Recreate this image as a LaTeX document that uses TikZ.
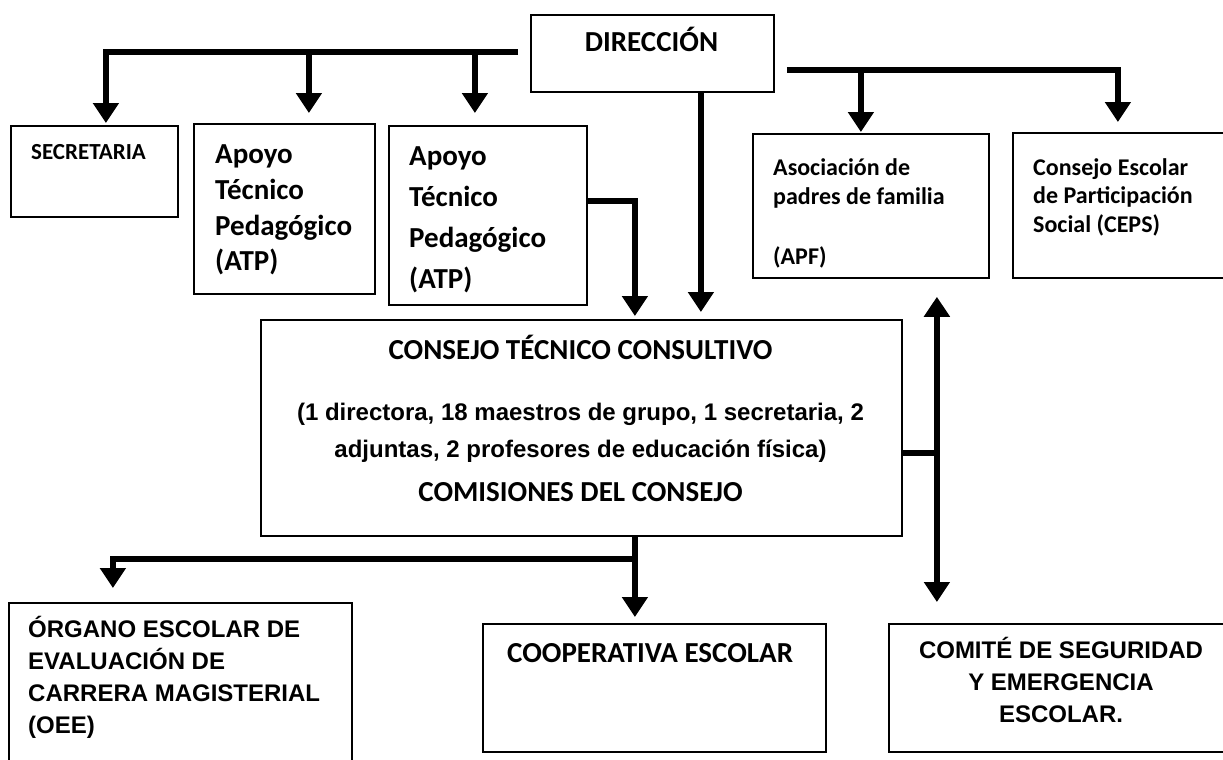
\documentclass[tikz,border=0pt]{standalone}
\usepackage{fontspec}
\setmainfont{Carlito}
\newfontfamily\arialfont{Liberation Sans}
\usetikzlibrary{arrows.meta}

\newcommand{\fsz}[2]{\fontsize{#1}{#2}\selectfont}
\newcommand{\topstrut}{\rule{0pt}{0.8em}}

\tikzset{
  box/.style={draw, line width=1.8pt, anchor=north west, inner sep=0pt},
  txt/.style={anchor=north west, inner sep=0pt, align=left},
  link/.style={line width=6pt},
  arr/.style={link, -{Triangle[width=25pt,length=20pt]}},
  darr/.style={link, {Triangle[width=25pt,length=20pt]}-{Triangle[width=25pt,length=20pt]}},
}

\begin{document}
\begin{tikzpicture}[x=1pt,y=-1pt]
  \useasboundingbox (0,0) rectangle (1223,760);

  % boxes
  \node[box, minimum width=243pt, minimum height=77pt] (dir) at (530,14) {};
  \node[box, minimum width=167pt, minimum height=91pt] (secr) at (10,125) {};
  \node[box, minimum width=181pt, minimum height=170pt] (atpa) at (193,123) {};
  \node[box, minimum width=198pt, minimum height=179pt] (atpb) at (388,125) {};
  \node[box, minimum width=236pt, minimum height=144pt] (apf) at (752,133) {};
  \node[box, minimum width=214pt, minimum height=145pt] (ceps) at (1012,132) {};
  \node[box, minimum width=641pt, minimum height=216pt] (ctc) at (260,319) {};
  \node[box, minimum width=343pt, minimum height=165pt] (oee) at (8,602) {};
  \node[box, minimum width=343pt, minimum height=128pt] (coop) at (482,623) {};
  \node[box, minimum width=338pt, minimum height=128pt] (comite) at (888,623) {};

  % texts
  \node[anchor=base, inner sep=0pt, font=\bfseries\fsz{29}{35}] (dirt) at (651.5,52) {DIRECCIÓN};
  \node[anchor=base west, inner sep=0pt, font=\bfseries\fsz{23}{28}] (secrt) at (31,159.5) {SECRETARIA};
  \node[txt, font=\bfseries\fsz{29}{35.6}] (atpat) at (215,140.5)
    {\topstrut Apoyo\\Técnico\\Pedagógico\\(ATP)};
  \node[txt, font=\bfseries\fsz{29}{40.8}] (atpbt) at (409,142.5)
    {\topstrut Apoyo\\Técnico\\Pedagógico\\(ATP)};
  \node[txt, font=\bfseries\fsz{24}{29.5}] (apft) at (773,156)
    {\topstrut Asociación de\\padres de familia\\[30pt](APF)};
  \node[txt, font=\bfseries\fsz{24}{28.5}] (cepst) at (1033,156)
    {\topstrut Consejo Escolar\\de Participación\\Social (CEPS)};
  \node[anchor=base, inner sep=0pt, font=\bfseries\fsz{29}{35}] (ctct) at (580.5,359)
    {CONSEJO TÉCNICO CONSULTIVO};
  \node[anchor=base, inner sep=0pt, font=\arialfont\bfseries\fsz{24}{30}] (ctcm) at (580.5,420.5)
    {(1 directora, 18 maestros de grupo, 1 secretaria, 2};
  \node[anchor=base, inner sep=0pt, font=\arialfont\bfseries\fsz{24}{30}] (ctcn) at (580.5,457.5)
    {adjuntas, 2 profesores de educación física)};
  \node[anchor=base, inner sep=0pt, font=\bfseries\fsz{29}{35}] (ctcc) at (580.5,501)
    {COMISIONES DEL CONSEJO};
  \node[txt, font=\arialfont\bfseries\fsz{24}{31.8}] (oeet) at (28,616.4)
    {\topstrut ÓRGANO ESCOLAR DE\\EVALUACIÓN DE\\CARRERA MAGISTERIAL\\(OEE)};
  \node[anchor=base west, inner sep=0pt, font=\bfseries\fsz{29}{35}] (coopt) at (507,662.3)
    {COOPERATIVA ESCOLAR};
  \node[anchor=north, inner sep=0pt, align=center, font=\arialfont\bfseries\fsz{24}{32}] (comitet) at (1061,637.4)
    {\topstrut COMITÉ DE SEGURIDAD\\Y EMERGENCIA\\ESCOLAR.};

  % connectors
  \coordinate (lbus) at ([xshift=-12pt,yshift=1.5pt]dir.west);
  \coordinate (rbus) at ([xshift=12pt,yshift=-16.5pt]dir.east);
  \draw[arr] (lbus) -| ([xshift=11.5pt,yshift=2pt]secr.north);
  \draw[arr] ([xshift=24.5pt]atpa.north |- lbus) -- ([xshift=24.5pt,yshift=10pt]atpa.north);
  \draw[arr] ([xshift=-13pt]atpb.north |- lbus) -- ([xshift=-13pt,yshift=12pt]atpb.north);
  \draw[arr] (rbus) -| ([xshift=-2pt,yshift=10pt]ceps.north);
  \draw[arr] ([xshift=-10pt]apf.north |- rbus) -- ([xshift=-10pt,yshift=1pt]apf.north);
  \draw[arr] ([xshift=48.5pt]dir.south) -- ([xshift=48.5pt,yshift=7pt]dir.south |- ctc.north);
  \draw[arr] ([yshift=14.5pt]atpb.east) -| ([xshift=53.5pt,yshift=3pt]ctc.north);

  \coordinate (rj) at (936,453);
  \draw[link] (rj -| ctc.east) -- (rj);
  \draw[darr] ([xshift=66pt,yshift=-18pt]apf.south) -- ([xshift=-121pt,yshift=21pt]comite.north);

  \coordinate (bj) at (634,559);
  \draw[arr] ([xshift=53.5pt]ctc.south) -- ([xshift=-19.5pt,yshift=6pt]coop.north);
  \draw[arr] (bj) -| ([xshift=-67.5pt,yshift=14pt]oee.north);
\end{tikzpicture}
\end{document}
